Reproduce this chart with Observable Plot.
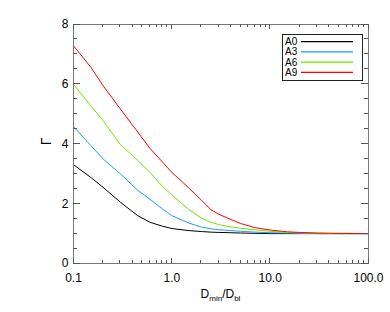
<!DOCTYPE html>
<html><head><meta charset="utf-8">
<script src="https://cdn.jsdelivr.net/npm/d3@7"></script>
<script src="https://cdn.jsdelivr.net/npm/@observablehq/plot@0.6"></script>
<style>
body{margin:0;background:#fff;}
svg{font-family:"Liberation Sans",Arial,Helvetica,sans-serif;}
</style>
</head><body><div id="chart"></div>
<script>
const xValues = [0.1, 0.15, 0.2, 0.3, 0.45, 0.6, 0.8, 1.0, 1.5, 2, 2.5, 3, 4, 5, 7, 10, 15, 20, 30, 50, 100];
const seriesNames = ["A0", "A3", "A6", "A9"];
const seriesColors = ["#000000", "#1a9cff", "#6ee600", "#ff0000"];
const a0Values = [3.31, 2.88, 2.55, 2.05, 1.60, 1.38, 1.25, 1.17, 1.10, 1.07, 1.05, 1.04, 1.03, 1.02, 1.01, 1.00, 1.00, 1.00, 1.00, 1.00, 1.00];
const a3Values = [4.58, 3.95, 3.50, 3.00, 2.45, 2.15, 1.83, 1.60, 1.35, 1.22, 1.16, 1.13, 1.10, 1.08, 1.05, 1.03, 1.02, 1.01, 1.00, 1.00, 1.00];
const a6Values = [6.00, 5.28, 4.78, 3.98, 3.45, 3.05, 2.58, 2.30, 1.80, 1.52, 1.38, 1.30, 1.22, 1.18, 1.13, 1.08, 1.04, 1.03, 1.01, 1.00, 1.00];
const a9Values = [7.29, 6.57, 5.95, 5.17, 4.40, 3.85, 3.40, 3.05, 2.52, 2.12, 1.80, 1.65, 1.47, 1.34, 1.20, 1.12, 1.06, 1.04, 1.02, 1.01, 1.00];
const yMajorTicks = [0, 2, 4, 6, 8];
const yMinorTicks = [0.5, 1, 1.5, 2.5, 3, 3.5, 4.5, 5, 5.5, 6.5, 7, 7.5];
const xMajorTicks = [0.1, 1, 10, 100];
const xTickLabels = ["0.1", "1.0", "10.0", "100.0"];
const xMinorTicks = [0.2,0.3,0.4,0.5,0.6,0.7,0.8,0.9,2,3,4,5,6,7,8,9,20,30,40,50,60,70,80,90];
const yLabel = "Γ";

const seriesValues = [a0Values, a3Values, a6Values, a9Values];
const rows = [];
seriesNames.forEach((name, i) => {
  xValues.forEach((x, j) => rows.push({series: name, x, y: seriesValues[i][j]}));
});

const axisGray = "#555";

const plot = Plot.plot({
  width: 390, height: 312,
  marginLeft: 73, marginRight: 22, marginTop: 24, marginBottom: 49,
  style: {fontFamily: '"Liberation Sans",Arial,sans-serif', fontSize: "12px", background: "#fff", color: "#000"},
  x: {type: "log", domain: [0.1, 100]},
  y: {domain: [0, 8]},
  color: {domain: seriesNames, range: seriesColors},
  marks: [
    Plot.line(rows, {x: "x", y: "y", z: "series", stroke: "series", strokeWidth: 1}),
    Plot.frame({stroke: "#777"}),
    Plot.axisY({ticks: yMajorTicks, tickSize: 0, tickPadding: 5, tickFormat: d => String(d), label: null, fontSize: 12}),
    Plot.axisX({anchor: "bottom", ticks: xMajorTicks, tickSize: 0, tickPadding: 10, tickFormat: d => xTickLabels[xMajorTicks.indexOf(d)], label: null, fontSize: 12})
  ]
});

const svg = d3.select(plot);
const sx = plot.scale("x"), sy = plot.scale("y");
const fLeft = Math.min(...sx.range), fRight = Math.max(...sx.range);
const fBottom = Math.max(...sy.range), fTop = Math.min(...sy.range);
const snap = v => Math.round(v - 0.5) + 0.5;

// inward ticks on all four sides, placed with Plot's own scales
const tg = svg.append("g").attr("stroke", axisGray).attr("stroke-width", 1).attr("fill", "none");
const addY = (vals, len) => vals.forEach(v => {
  const y = snap(sy.apply(v));
  tg.append("path").attr("d", `M${fLeft},${y}h${len}`);
  tg.append("path").attr("d", `M${fRight},${y}h${-len}`);
});
const addX = (vals, len) => vals.forEach(v => {
  const x = snap(sx.apply(v));
  tg.append("path").attr("d", `M${x},${fBottom}v${-len}`);
  tg.append("path").attr("d", `M${x},${fTop}v${len}`);
});
addY(yMajorTicks, 7);
addY(yMinorTicks, 4);
addX(xMajorTicks, 5);
addX(xMinorTicks, 3);

// y title (rotated, as in the reference)
svg.append("text").attr("transform", "translate(51,141.5) rotate(-90)")
  .attr("text-anchor", "middle").attr("font-size", 14).attr("fill", "#000").text(yLabel);

// x title with subscripts
const xt = svg.append("text").attr("x", (fLeft + fRight) / 2).attr("y", 297.5).attr("text-anchor", "middle")
  .attr("font-size", 12).attr("fill", "#000");
xt.append("tspan").text("D");
xt.append("tspan").attr("dy", 3).attr("font-size", 8).text("min");
xt.append("tspan").attr("dy", -3).text("/D");
xt.append("tspan").attr("dy", 3).attr("font-size", 8).text("bl");

// legend
const lg = svg.append("g");
lg.append("rect").attr("x", 282.5).attr("y", 34.5).attr("width", 80).attr("height", 46)
  .attr("fill", "#fff").attr("stroke", "#222").attr("stroke-width", 1);
seriesNames.forEach((name, i) => {
  const cy = 41.7 + i * 10.2;
  lg.append("text").attr("x", 285).attr("y", cy).attr("dy", "0.35em").attr("text-anchor", "start")
    .attr("font-size", 10).attr("fill", "#000").text(name);
  lg.append("line").attr("x1", 301).attr("x2", 353).attr("y1", cy).attr("y2", cy)
    .attr("stroke", seriesColors[i]).attr("stroke-width", 1.3);
});

document.getElementById("chart").appendChild(plot);
</script>
</body></html>
